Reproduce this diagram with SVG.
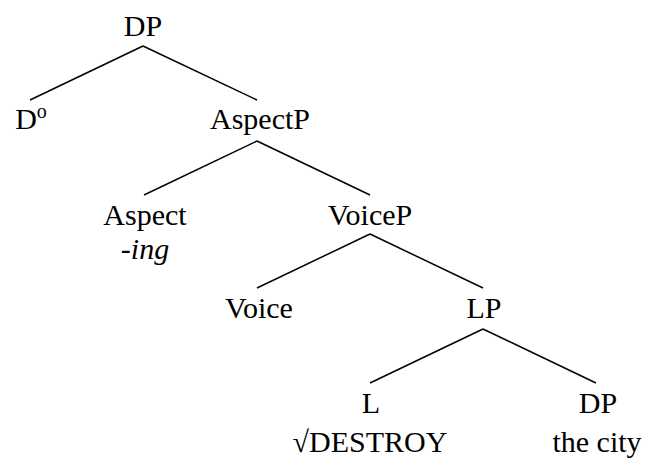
<svg xmlns="http://www.w3.org/2000/svg" width="647" height="459" viewBox="0 0 647 459">
<style>
text{font-size:30px;fill:#000;text-anchor:middle}
.it{font-style:italic}
line{stroke:#000;stroke-width:1.5}
</style>
<rect width="647" height="459" fill="#fff"/>
<g id="connectors">
<line x1="143" y1="46" x2="30" y2="100"/>
<line x1="143" y1="46" x2="257" y2="100"/>
<line x1="257" y1="141" x2="144" y2="195"/>
<line x1="257" y1="141" x2="370" y2="195"/>
<line x1="370" y1="234" x2="257" y2="288"/>
<line x1="370" y1="234" x2="483" y2="288"/>
<line x1="483" y1="329" x2="370" y2="383"/>
<line x1="483" y1="329" x2="596" y2="383"/>
</g>
<g font-family="Liberation Serif, DejaVu Serif, serif">
<g id="dp-root"><text x="143" y="36">DP</text></g>
<g id="d0"><text x="31" y="129">D<tspan font-size="20" dy="-11">o</tspan></text></g>
<g id="aspectp"><text x="260" y="129">AspectP</text></g>
<g id="aspect"><text x="145" y="225">Aspect</text><text x="145" y="259" class="it">-ing</text></g>
<g id="voicep"><text x="370" y="225">VoiceP</text></g>
<g id="voice"><text x="259" y="318">Voice</text></g>
<g id="lp"><text x="484" y="318">LP</text></g>
<g id="l"><text x="371" y="413">L</text><text x="370" y="452">√DESTROY</text></g>
<g id="dp-obj"><text x="598" y="413">DP</text><text x="597" y="452">the city</text></g>
</g>
</svg>
